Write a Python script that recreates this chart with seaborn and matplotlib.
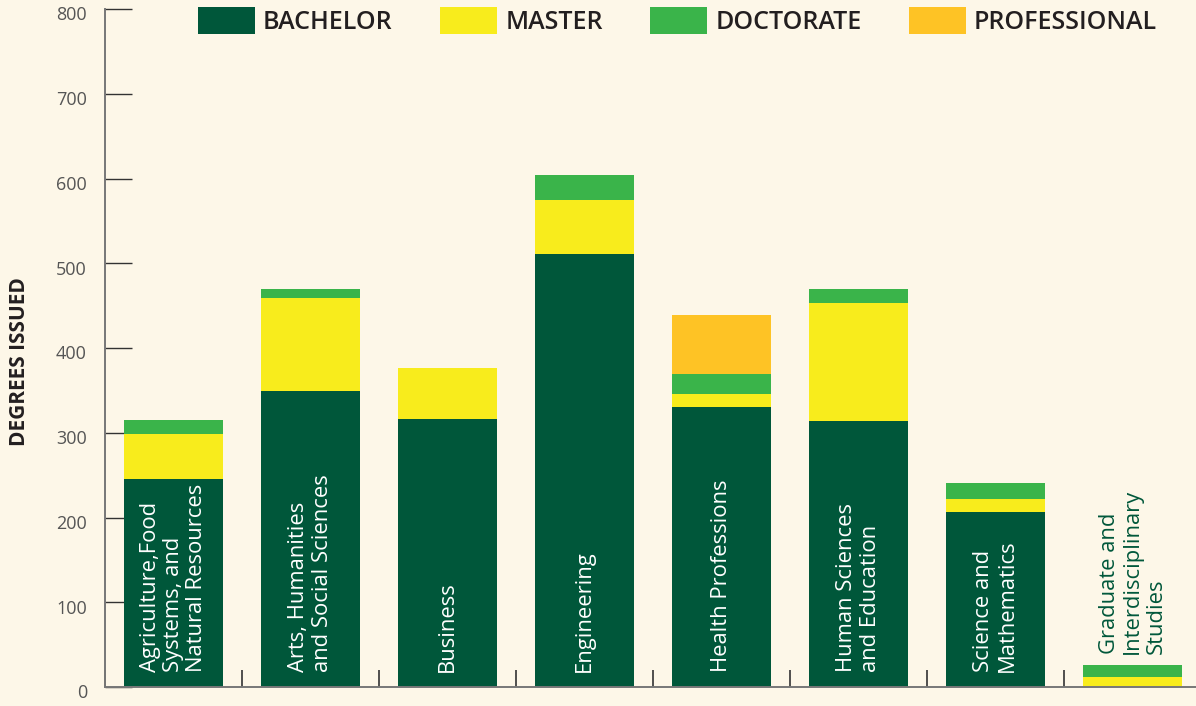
import matplotlib
matplotlib.use("Agg")
import matplotlib.pyplot as plt
import matplotlib.patches as mpatches
import matplotlib.transforms as mtransforms
import numpy as np
import pandas as pd
import seaborn as sns

# Data
colleges = [
    "Agriculture,Food\nSystems, and\nNatural Resources",
    "Arts, Humanities\nand Social Sciences",
    "Business",
    "Engineering",
    "Health Professions",
    "Human Sciences\nand Education",
    "Science and\nMathematics",
    "Graduate and\nInterdisciplinary\nStudies",
]
bachelor = [245, 349, 316, 511, 330, 314, 206, 0]
master = [54, 110, 60, 64, 16, 139, 16, 12]
doctorate = [16, 11, 0, 29, 23, 17, 19, 14]
professional = [0, 0, 0, 0, 70, 0, 0, 0]
degree_names = ["BACHELOR", "MASTER", "DOCTORATE", "PROFESSIONAL"]
y_ticks = [0, 100, 200, 300, 400, 500, 600, 700, 800]

colors = ["#00573A", "#F8EC1C", "#3AB44A", "#FEC325"]
bg = "#FDF7E8"

sns.set_theme(style="white")
plt.rcParams["font.family"] = ["Open Sans", "DejaVu Sans"]

df = pd.DataFrame({
    "college": colleges,
    "bachelor": bachelor,
    "master": master,
    "doctorate": doctorate,
    "professional": professional,
})
# cumulative heights, drawn from the tallest down so each layer covers the next
layers = ["bachelor", "master", "doctorate", "professional"]
cum = df[layers].cumsum(axis=1)

fig = plt.figure(figsize=(11.96, 7.06), dpi=100, facecolor=bg)
ax = fig.add_axes([105 / 1196, 19 / 706, 1096 / 1196, 678 / 706])
ax.set_facecolor(bg)

for layer, col in reversed(list(zip(layers, colors))):
    sns.barplot(x=df["college"], y=cum[layer], color=col, width=0.72,
                saturation=1, ax=ax, order=colleges, linewidth=0,
                edgecolor="none")

ax.set_xlim(-0.5, 7.5)
ax.set_ylim(0, 800)
ax.set_xlabel("")
ax.set_ylabel("DEGREES ISSUED", fontsize=15, fontweight="bold",
              color="#231F20")
ax.yaxis.set_label_coords(-0.068, 0.48)

# college names written inside the bars
for i, name in enumerate(colleges):
    total = cum["professional"][i]
    if total > 100:
        ax.text(i, 18, name, rotation=90, ha="center", va="bottom",
                multialignment="left", color="white", fontsize=15.8,
                linespacing=1.15)
    else:
        ax.text(i, total + 13, name, rotation=90, ha="center", va="bottom",
                multialignment="left", color="#00573A", fontsize=15.8,
                linespacing=1.15)

# axes styling
for s in ["top", "right"]:
    ax.spines[s].set_visible(False)
ax.spines["left"].set_color("#777777")
ax.spines["left"].set_linewidth(1.4)
ax.spines["bottom"].set_color("#777777")
ax.spines["bottom"].set_linewidth(1.4)

ax.set_yticks(y_ticks)
ax.set_yticklabels([str(t) for t in y_ticks])
ax.tick_params(axis="y", left=True, direction="in", length=19.5, width=1,
               color="#333333", pad=13, labelsize=13, labelcolor="#555555")
# labels sit a little below their tick marks
shift = mtransforms.ScaledTranslation(0, -4.6 / 72, fig.dpi_scale_trans)
for lab in ax.get_yticklabels():
    lab.set_va("center")
    lab.set_transform(lab.get_transform() + shift)

ax.set_xticks(np.arange(-0.5, 7.0, 1.0))
ax.set_xticklabels([])
ax.tick_params(axis="x", bottom=True, direction="in", length=12, width=1.2,
               color="#333333")

handles = [mpatches.Patch(facecolor=c, edgecolor="none", label=n)
           for n, c in zip(degree_names, colors)]
fig.legend(handles=handles, loc="upper left",
           bbox_to_anchor=(198 / 1196, 1 - 7 / 706), ncol=4, frameon=False,
           borderpad=0, borderaxespad=0, handlelength=2.28,
           handleheight=1.3, handletextpad=0.32, columnspacing=1.9,
           prop={"size": 18, "weight": "semibold"}, labelcolor="#231F20")

fig.savefig("out.png", dpi=100, facecolor=bg)
